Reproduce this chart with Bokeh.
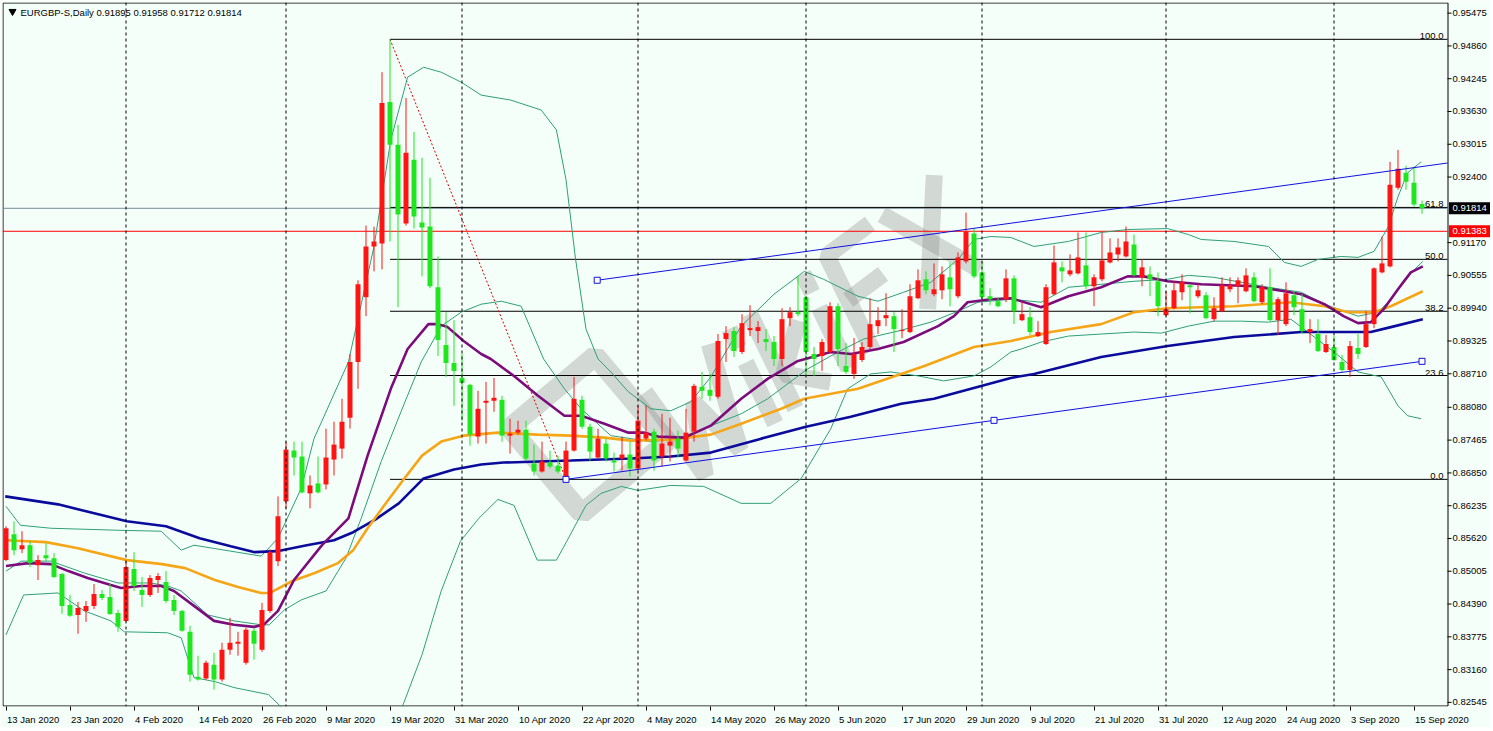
import math
from bokeh.plotting import figure
from bokeh.models import ColumnDataSource, FixedTicker, Range1d, Span
from bokeh.embed import file_html
from bokeh.resources import INLINE
from bokeh.core.properties import value

# ---------------- data ----------------
title_text = "EURGBP-S,Daily  0.91895 0.91958 0.91712 0.91814"

opens = [
0.85214, 0.85700, 0.85419, 0.85494, 0.85120, 0.85307, 0.85251, 0.84952, 0.84373, 0.84186,
0.84261, 0.84355, 0.84579, 0.84523, 0.84224, 0.84074, 0.85045, 0.84654, 0.84560, 0.84841,
0.84803, 0.84467, 0.84261, 0.83869, 0.83028, 0.82991, 0.83252, 0.82973, 0.83533, 0.83645,
0.83290, 0.83888, 0.83533, 0.84261, 0.85195, 0.86316, 0.87269, 0.87157, 0.86466, 0.86653,
0.86634, 0.87100, 0.87306, 0.87885, 0.88931, 0.90146, 0.91098, 0.91154, 0.93807, 0.93004,
0.91527, 0.92723, 0.91546, 0.91471, 0.90333, 0.89249, 0.88912, 0.88632, 0.88502, 0.87531,
0.88165, 0.88203, 0.88221, 0.87549, 0.87605, 0.87661, 0.87026, 0.86876, 0.87044, 0.86988,
0.86746, 0.87269, 0.88221, 0.87717, 0.87138, 0.87400, 0.87082, 0.87119, 0.87194, 0.86932,
0.87493, 0.87624, 0.87157, 0.87362, 0.87493, 0.87082, 0.87624, 0.88465, 0.88408, 0.88278,
0.89361, 0.89511, 0.89118, 0.89529, 0.89511, 0.89361, 0.89305, 0.88987, 0.89753, 0.89865,
0.90146, 0.89081, 0.89043, 0.89118, 0.89977, 0.88856, 0.88707, 0.88968, 0.89212, 0.89603,
0.89753, 0.89790, 0.89511, 0.89492, 0.90127, 0.90482, 0.90202, 0.90276, 0.90519, 0.90164,
0.90818, 0.91341, 0.90612, 0.90164, 0.90071, 0.90108, 0.90500, 0.89715, 0.89772, 0.89417,
0.89268, 0.90202, 0.90706, 0.90575, 0.90593, 0.90743, 0.90351, 0.90482, 0.90799, 0.90949,
0.90911, 0.91136, 0.90519, 0.90575, 0.90445, 0.89809, 0.89940, 0.90239, 0.90370, 0.90164,
0.90183, 0.89734, 0.89884, 0.90295, 0.90351, 0.90258, 0.90519, 0.90052, 0.90333, 0.89715,
0.89641, 0.90183, 0.89921, 0.89492, 0.89455, 0.89118, 0.89212, 0.88931, 0.88781, 0.89193,
0.89212, 0.89641, 0.90612, 0.90724, 0.92201, 0.92480, 0.92294, 0.91895]

highs = [
0.85849, 0.85942, 0.85756, 0.85569, 0.85307, 0.85532, 0.85345, 0.84971, 0.84560, 0.84429,
0.84448, 0.84766, 0.84654, 0.84766, 0.84280, 0.85195, 0.85363, 0.84896, 0.84933, 0.84971,
0.85008, 0.84560, 0.84280, 0.83981, 0.83421, 0.83327, 0.83477, 0.83664, 0.84130, 0.83869,
0.83944, 0.83944, 0.84411, 0.85419, 0.86410, 0.87437, 0.87437, 0.87437, 0.86801, 0.87157,
0.87680, 0.87810, 0.88240, 0.89081, 0.90463, 0.91490, 0.91471, 0.94367, 0.94984, 0.93377,
0.93882, 0.93247, 0.92761, 0.92387, 0.90911, 0.89865, 0.89715, 0.89081, 0.88521, 0.88390,
0.88558, 0.88632, 0.88296, 0.87866, 0.87829, 0.87829, 0.87381, 0.87437, 0.87269, 0.87175,
0.87437, 0.88651, 0.88296, 0.87773, 0.87680, 0.87493, 0.87231, 0.87531, 0.87437, 0.88109,
0.88109, 0.87680, 0.87960, 0.87885, 0.87643, 0.88053, 0.88521, 0.88744, 0.88707, 0.89455,
0.89603, 0.89585, 0.89828, 0.89996, 0.89697, 0.89548, 0.89417, 0.89940, 0.89959, 0.90537,
0.90164, 0.89212, 0.89361, 0.90052, 0.90033, 0.89286, 0.89380, 0.89305, 0.90127, 0.89959,
0.90220, 0.89865, 0.89921, 0.90389, 0.90668, 0.90631, 0.90780, 0.90724, 0.90799, 0.90986,
0.91733, 0.91434, 0.90799, 0.90314, 0.90146, 0.90668, 0.90556, 0.90052, 0.89959, 0.89697,
0.90389, 0.91117, 0.90818, 0.90949, 0.91360, 0.91360, 0.90575, 0.91360, 0.91248, 0.91248,
0.91471, 0.91323, 0.90855, 0.90724, 0.90612, 0.90258, 0.90445, 0.90575, 0.90389, 0.90389,
0.90239, 0.90146, 0.90519, 0.90519, 0.90519, 0.90687, 0.90612, 0.90389, 0.90687, 0.90146,
0.90426, 0.90258, 0.90202, 0.89734, 0.89734, 0.89436, 0.89417, 0.89062, 0.89324, 0.89455,
0.89884, 0.90706, 0.91285, 0.92686, 0.92910, 0.92611, 0.92592, 0.91958]

lows = [
0.85195, 0.85307, 0.85345, 0.85083, 0.84841, 0.85195, 0.84878, 0.84205, 0.84149, 0.83832,
0.84055, 0.84298, 0.84467, 0.84186, 0.83869, 0.84055, 0.84635, 0.84336, 0.84523, 0.84598,
0.84411, 0.84186, 0.83869, 0.82935, 0.82954, 0.82973, 0.82786, 0.82935, 0.83439, 0.83421,
0.83252, 0.83346, 0.83495, 0.84224, 0.85102, 0.86185, 0.86801, 0.86466, 0.86185, 0.86466,
0.86540, 0.86801, 0.87119, 0.87680, 0.88427, 0.89790, 0.90631, 0.90668, 0.91192, 0.89959,
0.91490, 0.91434, 0.90537, 0.90314, 0.89043, 0.88651, 0.88109, 0.87829, 0.87362, 0.87400,
0.87400, 0.87997, 0.87437, 0.87213, 0.87568, 0.87082, 0.86801, 0.86857, 0.86932, 0.86839,
0.86729, 0.87250, 0.87680, 0.87082, 0.87119, 0.87063, 0.86876, 0.86895, 0.86783, 0.86895,
0.87456, 0.86895, 0.86970, 0.87063, 0.87138, 0.87063, 0.87437, 0.88240, 0.88203, 0.88240,
0.88931, 0.89025, 0.89081, 0.89417, 0.89286, 0.89137, 0.88856, 0.88856, 0.89603, 0.89790,
0.88669, 0.88669, 0.88763, 0.89081, 0.88856, 0.88707, 0.88614, 0.88931, 0.89174, 0.89455,
0.89603, 0.89118, 0.89380, 0.89473, 0.90108, 0.90202, 0.90164, 0.90108, 0.89977, 0.90127,
0.90780, 0.90500, 0.90108, 0.89996, 0.89959, 0.90052, 0.89641, 0.89697, 0.89436, 0.89399,
0.89249, 0.90183, 0.90426, 0.90537, 0.90575, 0.90295, 0.89977, 0.90445, 0.90780, 0.90818,
0.90893, 0.90537, 0.90351, 0.90164, 0.89790, 0.89790, 0.89921, 0.90089, 0.89846, 0.90127,
0.89734, 0.89697, 0.89865, 0.90239, 0.90033, 0.90239, 0.90052, 0.90015, 0.89697, 0.89436,
0.89603, 0.89809, 0.89455, 0.89286, 0.89118, 0.89099, 0.88950, 0.88744, 0.88651, 0.88987,
0.89193, 0.89566, 0.90593, 0.90706, 0.92163, 0.92163, 0.91845, 0.91712]

closes = [
0.85812, 0.85401, 0.85494, 0.85158, 0.85214, 0.85251, 0.84896, 0.84355, 0.84168, 0.84317,
0.84355, 0.84579, 0.84504, 0.84205, 0.83962, 0.85083, 0.84729, 0.84560, 0.84878, 0.84915,
0.84448, 0.84261, 0.83888, 0.83065, 0.82973, 0.83290, 0.82973, 0.83533, 0.83664, 0.83682,
0.83907, 0.83645, 0.84280, 0.85363, 0.86036, 0.87287, 0.87138, 0.86484, 0.86615, 0.86484,
0.87138, 0.87381, 0.87810, 0.88931, 0.90389, 0.91098, 0.91192, 0.93788, 0.93004, 0.91696,
0.92854, 0.91658, 0.91453, 0.90351, 0.89342, 0.88912, 0.88763, 0.88539, 0.87568, 0.88053,
0.88203, 0.88259, 0.87549, 0.87587, 0.87661, 0.87119, 0.86876, 0.87063, 0.86970, 0.86876,
0.87269, 0.88240, 0.87717, 0.87250, 0.87493, 0.87119, 0.87044, 0.87194, 0.86932, 0.87829,
0.87605, 0.87082, 0.87400, 0.87437, 0.87306, 0.87605, 0.88483, 0.88390, 0.88296, 0.89324,
0.89473, 0.89137, 0.89659, 0.89566, 0.89585, 0.89305, 0.88987, 0.89734, 0.89865, 0.89828,
0.89118, 0.88987, 0.89305, 0.89977, 0.89174, 0.88744, 0.89081, 0.89212, 0.89641, 0.89715,
0.89809, 0.89548, 0.89529, 0.90164, 0.90463, 0.90276, 0.90295, 0.90575, 0.90295, 0.90893,
0.91379, 0.90537, 0.90146, 0.90108, 0.89977, 0.90500, 0.89884, 0.89828, 0.89492, 0.89492,
0.90333, 0.90799, 0.90631, 0.90649, 0.90893, 0.90351, 0.90519, 0.90836, 0.90986, 0.91080,
0.91192, 0.90556, 0.90706, 0.90482, 0.89977, 0.89921, 0.90276, 0.90426, 0.90333, 0.90276,
0.89753, 0.89940, 0.90370, 0.90370, 0.90463, 0.90556, 0.90071, 0.90333, 0.89715, 0.90108,
0.90220, 0.89959, 0.89511, 0.89548, 0.89137, 0.89268, 0.88968, 0.88781, 0.89230, 0.89081,
0.89641, 0.90687, 0.90780, 0.92257, 0.92555, 0.92313, 0.91883, 0.91814]

# indicator lines (bar index, price)
blue_x = [-0.1, 6.5, 15.1, 20, 24.2, 28.1, 31.1, 33.9, 37.6, 41, 43.4, 46.2, 49.1, 52.2, 56, 59.4, 62.2, 70.6, 78.1, 83.1,
          88.1, 94.4, 100, 105.6, 111.9, 116, 125.6, 128.5, 136.9, 145.2, 153.5, 161.9, 170.6, 173.1, 177.1]
blue_y = [0.86410, 0.86260, 0.85942, 0.85849, 0.85625, 0.85476, 0.85363, 0.85382, 0.85494, 0.85588,
          0.85737, 0.85979, 0.86279, 0.86746, 0.86914, 0.87007, 0.87044, 0.87082, 0.87119, 0.87157,
          0.87231, 0.87493, 0.87717, 0.87904, 0.88147, 0.88240, 0.88632, 0.88707, 0.89025, 0.89230,
          0.89399, 0.89492, 0.89492, 0.89585, 0.89734]

orange_x = [0, 5, 9, 15.1, 19.5, 22.4, 26.1, 29, 31.9, 33, 35.8, 38.6, 41.5, 43.4, 45.2, 47.2, 49.6, 52, 54.4, 57.2,
            61.5, 66.4, 70.6, 74.8, 78.1, 83.1, 88.1, 91.9, 96.9, 99.8, 106.5, 114.8, 121, 125.6, 130.6, 136.9, 141,
            145.2, 153.5, 160.6, 164.8, 167.8, 171, 173.1, 177.1]
orange_y = [0.85588, 0.85551, 0.85438, 0.85214, 0.85139, 0.85064, 0.84841, 0.84710, 0.84598, 0.84598,
            0.84822, 0.84971, 0.85158, 0.85401, 0.85812, 0.86223, 0.86709, 0.87175, 0.87437, 0.87549,
            0.87605, 0.87568, 0.87549, 0.87512, 0.87456, 0.87475, 0.87568, 0.87773, 0.88053, 0.88240,
            0.88427, 0.88856, 0.89212, 0.89324, 0.89492, 0.89641, 0.89865, 0.89940, 0.89977, 0.90052,
            0.89977, 0.89865, 0.89865, 0.89977, 0.90258]

purple_x = [0, 2.8, 5.6, 7.8, 10.2, 13.1, 14.4, 16.9, 19.4, 21, 23.5, 26, 28.5, 31, 32.2, 34, 36, 39.5, 42.8, 45.2,
            48.1, 50.2, 52.8, 54, 55.2, 57.2, 59.4, 60.6, 63.5, 66.5, 69.8, 71.9, 74.8, 77.8, 79.8, 81.5, 84.8, 88.1,
            91.9, 95.2, 99, 103.1, 105.6, 109, 112.2, 116.5, 118.5, 120.2, 123.1, 125.6, 129.4, 132.8, 136.9, 140.2,
            142.2, 145.2, 149.4, 156, 159.8, 161.9, 164.8, 167.2, 169, 170.6, 172.2, 174, 175.6, 177.1]
purple_y = [0.85102, 0.85158, 0.85139, 0.85008, 0.84878, 0.84747, 0.84691, 0.84729, 0.84729, 0.84635,
            0.84355, 0.84074, 0.84000, 0.83962, 0.84000, 0.84261, 0.84841, 0.85494, 0.85998, 0.87175,
            0.88427, 0.89174, 0.89641, 0.89641, 0.89585, 0.89324, 0.89081, 0.88987, 0.88669, 0.88296,
            0.87922, 0.87922, 0.87773, 0.87605, 0.87605, 0.87531, 0.87512, 0.87736, 0.88240, 0.88614,
            0.88950, 0.89118, 0.89081, 0.89174, 0.89305, 0.89603, 0.89790, 0.90052, 0.90108, 0.90127,
            0.89959, 0.90164, 0.90333, 0.90537, 0.90537, 0.90445, 0.90389, 0.90351, 0.90258, 0.90202,
            0.90015, 0.89790, 0.89659, 0.89678, 0.89921, 0.90295, 0.90612, 0.90724]

bb_upper_x = [0, 1.8, 5.6, 14, 19.4, 21.9, 23.5, 31.9, 34, 36.9, 38.5, 42.8, 46, 48.1, 50.2, 52.2, 54.4, 56.9, 59.4,
              63.1, 66.9, 68.8, 70, 71.2, 72.5, 74, 75.6, 77.8, 80.6, 83.1, 85.6, 88.1, 91.9, 96, 99.8, 102.2, 106.5,
              109, 112.2, 115.6, 119, 121, 123.1, 125.6, 128.5, 132.8, 136.9, 140.2, 145.2, 147.8, 149.4, 153.5,
              157.8, 159.8, 161.9, 164, 166.9, 169, 171, 172.8, 174, 175.2, 176.9]
bb_upper_y = [0.86223, 0.85868, 0.85812, 0.85774, 0.85756, 0.85401, 0.85494, 0.85289, 0.85625, 0.86559,
              0.87493, 0.88931, 0.91098, 0.93097, 0.94274, 0.94460, 0.94367, 0.94180, 0.93937, 0.93844,
              0.93657, 0.93284, 0.92350, 0.90855, 0.89548, 0.88987, 0.88744, 0.88371, 0.88053, 0.88016,
              0.88184, 0.88651, 0.89604, 0.90202, 0.90631, 0.90482, 0.90164, 0.90071, 0.90239, 0.90426,
              0.90855, 0.91229, 0.91285, 0.91266, 0.91098, 0.91192, 0.91360, 0.91416, 0.91434, 0.91322,
              0.91229, 0.91192, 0.91098, 0.90799, 0.90724, 0.90855, 0.90911, 0.90893, 0.91005, 0.91471,
              0.92032, 0.92480, 0.92686]

bb_mid_x = [0, 1.9, 5.6, 9.8, 14, 18.1, 20.2, 21.9, 25.2, 28.5, 31.9, 32.9, 34.8, 36.9, 40, 42.5, 44.4, 46.9, 49.4,
            51.9, 54.4, 56.9, 59.4, 61.9, 64.4, 67.2, 69.8, 71.9, 75.6, 78.1, 80.6, 84, 87.2, 91.9, 95.2, 100.2, 104,
            107.2, 111.5, 115.6, 119, 121.5, 125.6, 129.4, 132.8, 141, 145.2, 147.8, 151, 157.8, 161.9, 164.8, 169,
            171.5, 173.1, 174.8, 177.1]
bb_mid_y = [0.85008, 0.85195, 0.85195, 0.84971, 0.84785, 0.84785, 0.84729, 0.84635, 0.84186, 0.84074,
            0.84000, 0.84000, 0.84280, 0.84467, 0.84635, 0.85251, 0.85998, 0.87064, 0.88007, 0.88931,
            0.89604, 0.89865, 0.90015, 0.90071, 0.89977, 0.88987, 0.88427, 0.88053, 0.87549, 0.87493,
            0.87437, 0.87493, 0.87680, 0.87960, 0.88240, 0.88800, 0.89118, 0.89361, 0.89511, 0.89678,
            0.89884, 0.90052, 0.90108, 0.90052, 0.90332, 0.90445, 0.90482, 0.90556, 0.90519, 0.90333,
            0.90239, 0.90015, 0.89790, 0.89865, 0.90108, 0.90482, 0.90818]

bb_lower_x = [0, 2.2, 6.5, 9.8, 13.1, 14.8, 20.2, 21.9, 23.5, 26.1, 28.5, 32.8, 34.2, 36.9, 41.9, 46.2, 49.6, 52, 54.4,
              56.8, 59.1, 61.5, 63.5, 66.4, 68.8, 70.1, 72.5, 74.4, 76.9, 79, 83.1, 87.2, 91.9, 95.6, 99.4, 103.1,
              105.2, 108.1, 110.6, 114, 117.2, 121, 123.1, 125.6, 126.9, 129.4, 132.8, 136.9, 141, 144.4, 147.8, 151,
              154.4, 157.8, 160.6, 166, 169, 171.9, 174, 175.2, 176.9]
bb_lower_y = [0.83813, 0.84560, 0.84598, 0.84261, 0.84074, 0.83869, 0.83851, 0.83757, 0.83010, 0.82935,
              0.82823, 0.82692, 0.82487, 0.81889, 0.81328, 0.81515, 0.82487, 0.83439, 0.84635, 0.85569,
              0.85998, 0.86353, 0.86241, 0.85214, 0.85214, 0.85569, 0.86241, 0.86466, 0.86597, 0.86522,
              0.86615, 0.86597, 0.86279, 0.86279, 0.86746, 0.87680, 0.88427, 0.88707, 0.88744, 0.88670,
              0.88576, 0.88670, 0.88838, 0.89118, 0.89174, 0.89305, 0.89417, 0.89455, 0.89492, 0.89473,
              0.89604, 0.89697, 0.89697, 0.89678, 0.89734, 0.89118, 0.88744, 0.88651, 0.88109, 0.87922,
              0.87866]

# Fibonacci retracement (swing high bar 48 -> swing low bar 70)
fib_high_bar, fib_high = 48, 0.94984
fib_low_bar, fib_low = 70, 0.86729
fib_ratios = [100.0, 61.8, 50.0, 38.2, 23.6, 0.0]

# trend channel anchors
channel_bars = [70, 177]
channel_prices = [0.86729, 0.88943]
channel_upper_bar, channel_upper_price = 73.9, 0.90464

bid_price = 0.91814
red_level = 0.91383

month_starts = [15, 35, 57, 79, 100, 122, 145, 166]

xtick_pos = list(range(0, 177, 8))
xtick_labels = ["13 Jan 2020", "23 Jan 2020", "4 Feb 2020", "14 Feb 2020", "26 Feb 2020", "9 Mar 2020",
                "19 Mar 2020", "31 Mar 2020", "10 Apr 2020", "22 Apr 2020", "4 May 2020", "14 May 2020",
                "26 May 2020", "5 Jun 2020", "17 Jun 2020", "29 Jun 2020", "9 Jul 2020", "21 Jul 2020",
                "31 Jul 2020", "12 Aug 2020", "24 Aug 2020", "3 Sep 2020", "15 Sep 2020"]

ytick_vals = [0.95475, 0.94860, 0.94245, 0.93630, 0.93015, 0.92400, 0.91170, 0.90555, 0.89940, 0.89325,
              0.88710, 0.88080, 0.87465, 0.86850, 0.86235, 0.85620, 0.85005, 0.84390, 0.83775, 0.83160, 0.82545]

# ---------------- layout ----------------
FONT = "Liberation Sans"
FSN = 9.5
FS = "9.5px"
BG = "#f5fffa"
BULL = "#ff1414"
BEAR = "#1fe61f"
TEAL = "#2f9f78"
WM = "#808080"

W, H = 1490, 727
LEFT, TOP_PX, BOTTOM_PX = 2, 2, 709
CHART_RIGHT = 1447            # price-panel border; the price scale lives to its right
BAR_PX = 8.0
PX = 0.0001868                # price per pixel
TOP = 0.95712                 # price at canvas y = 0
X0 = (LEFT - 5.5) / BAR_PX
X1 = X0 + (W - LEFT) / BAR_PX
Y1 = TOP - PX * TOP_PX
Y0 = TOP - PX * BOTTOM_PX


def sx(px):
    return X0 + (px - LEFT) / BAR_PX


def sy(py):
    return TOP - PX * py


XR = sx(CHART_RIGHT)          # data x of the price-panel border

CHAR_W = {" ": 0.278, "J": 0.5, "a": 0.556, "n": 0.556, "F": 0.611, "e": 0.556, "b": 0.556, "M": 0.833,
          "r": 0.333, "A": 0.667, "p": 0.556, "y": 0.5, "u": 0.556, "l": 0.222, "S": 0.667, "g": 0.556}


def text_px(s):
    return sum(CHAR_W.get(ch, 0.556) for ch in s) * FSN


p = figure(width=W, height=H, x_range=Range1d(X0, X1), y_range=Range1d(Y0, Y1),
           output_backend="svg", toolbar_location=None, y_axis_location=None,
           min_border_left=LEFT, min_border_top=TOP_PX, min_border_right=0,
           min_border_bottom=H - BOTTOM_PX)
p.background_fill_color = BG
p.border_fill_color = BG
p.outline_line_color = None
p.xgrid.visible = False
p.ygrid.visible = False

# ---- background watermark (logo frame + stroked lettering, rotated) ----
p.rect(x=[sx(588)], y=[sy(436)], width=[112], height=[112], width_units="screen", height_units="screen",
       angle=0.70, fill_alpha=0, line_color=WM, line_alpha=0.3, line_width=20)
wm_strokes = [
    [(0, 90), (16, 0), (35, 58), (54, 0), (70, 90)],               # W
    [(92, 0), (92, 58)], [(92, 72), (92, 90)],                      # i
    [(114, 0), (114, 90)], [(150, 60), (118, 30), (152, 0)],        # k
    [(172, 0), (172, 58)], [(172, 72), (172, 90)],                  # i
    [(198, 0), (198, 90), (245, 90)], [(198, 48), (236, 48)],       # F
    [(258, 0), (315, 90)], [(258, 90), (315, 0)],                   # X
]
wm_a, wm_s, wm_cx, wm_cy = math.radians(37), 1.15, 812.0, 332.0
dxu, dyu = math.cos(wm_a), -math.sin(wm_a)
uxv, uyv = -math.sin(wm_a), -math.cos(wm_a)
wm_xs, wm_ys = [], []
for stroke in wm_strokes:
    xs_, ys_ = [], []
    for u, v in stroke:
        uu = (u - 157.5 + 0.2 * (v - 45)) * wm_s
        vv = (v - 45) * wm_s
        px_ = wm_cx + uu * dxu + vv * uxv
        py_ = wm_cy + uu * dyu + vv * uyv
        xs_.append(sx(px_))
        ys_.append(sy(py_))
    wm_xs.append(xs_)
    wm_ys.append(ys_)
p.multi_line(wm_xs, wm_ys, line_color=WM, line_alpha=0.3, line_width=17, line_join="bevel", line_cap="butt")

# date axis: labels start at their tick (MT4 style); major ticks carry the text, minor ticks mark the bar
label_centers = [round(t + (1 + text_px(s) / 2.0) / BAR_PX, 4) for t, s in zip(xtick_pos, xtick_labels)]
p.xaxis.ticker = FixedTicker(ticks=label_centers, minor_ticks=xtick_pos)
p.xaxis.major_label_overrides = {c: s for c, s in zip(label_centers, xtick_labels)}
p.xaxis.major_label_text_font = FONT
p.xaxis.major_label_text_font_size = FS
p.xaxis.major_label_text_color = "black"
p.xaxis.major_label_standoff = 3
p.xaxis.major_tick_out = 0
p.xaxis.major_tick_in = 0
p.xaxis.minor_tick_out = 4
p.xaxis.minor_tick_in = 0
p.xaxis.minor_tick_line_color = "black"
p.xaxis.axis_line_color = None

# panel border
bx = [sx(LEFT + 0.5), sx(LEFT + 0.5), sx(CHART_RIGHT + 0.5), sx(CHART_RIGHT + 0.5), sx(LEFT + 0.5)]
by = [sy(TOP_PX + 0.5), sy(BOTTOM_PX - 0.5), sy(BOTTOM_PX - 0.5), sy(TOP_PX + 0.5), sy(TOP_PX + 0.5)]
p.line(bx, by, line_color="black", line_width=1)

# price scale (right side)
p.segment(x0=[XR] * len(ytick_vals), y0=ytick_vals, x1=[sx(CHART_RIGHT + 4)] * len(ytick_vals), y1=ytick_vals,
          line_color="black", line_width=1)
p.text(x=[sx(CHART_RIGHT + 5)] * len(ytick_vals), y=ytick_vals, text=["%.5f" % v for v in ytick_vals],
       text_align="left", text_baseline="middle", text_font=value(FONT), text_font_size=FS, text_color="black")

# month separators
for m in month_starts:
    p.add_layout(Span(location=m, dimension="height", line_color="black", line_dash="3 3", line_width=1))

# horizontal price lines
p.segment(x0=[X0, X0], y0=[bid_price, red_level], x1=[XR, XR], y1=[bid_price, red_level],
          line_color=["#7a8a9a", "#ff0000"], line_width=1)

# Fibonacci levels
fib_levels = [fib_low + r / 100.0 * (fib_high - fib_low) for r in fib_ratios]
p.segment(x0=[fib_high_bar] * len(fib_levels), y0=fib_levels, x1=[XR] * len(fib_levels), y1=fib_levels,
          line_color="black", line_width=1)
p.text(x=[XR] * len(fib_levels), y=fib_levels, text=["%.1f" % r for r in fib_ratios], text_align="right",
       text_baseline="bottom", x_offset=-4, text_font=value(FONT), text_font_size=FS, text_color="black")
p.line(x=[fib_high_bar, fib_low_bar], y=[fib_high, fib_low], line_color="#e00000", line_dash="2 2", line_width=1)

# indicators
p.line(bb_upper_x, bb_upper_y, line_color=TEAL, line_width=1)
p.line(bb_mid_x, bb_mid_y, line_color=TEAL, line_width=1)
p.line(bb_lower_x, bb_lower_y, line_color=TEAL, line_width=1)
p.line(blue_x, blue_y, line_color="#0a0a9c", line_width=2.6)
p.line(orange_x, orange_y, line_color="#f5a516", line_width=2.6)
p.line(purple_x, purple_y, line_color="#7c0c7c", line_width=2.6)

# candles
n = len(closes)
xs = list(range(n))
cols, tops, bots = [], [], []
for o, c in zip(opens, closes):
    cols.append(BULL if c >= o else BEAR)
    t, b = max(o, c), min(o, c)
    if t - b < PX:
        b = t - PX
    tops.append(t)
    bots.append(b)
src = ColumnDataSource(dict(x=xs, top=tops, bottom=bots, high=highs, low=lows, color=cols))
p.segment(x0="x", y0="low", x1="x", y1="high", line_color="color", line_width=1, source=src)
p.vbar(x="x", width=0.625, top="top", bottom="bottom", fill_color="color", line_color=None, source=src)

# channel
slope = (channel_prices[1] - channel_prices[0]) / (channel_bars[1] - channel_bars[0])
p.line(channel_bars, channel_prices, line_color="#1010e0", line_width=1)
upper_end = channel_upper_price + slope * (XR - channel_upper_bar)
p.line([channel_upper_bar, XR], [channel_upper_price, upper_end], line_color="#1010e0", line_width=1)
mid_bar = (channel_bars[0] + channel_bars[1]) / 2.0
p.scatter([channel_bars[0], mid_bar, channel_bars[1], channel_upper_bar],
          [channel_prices[0], (channel_prices[0] + channel_prices[1]) / 2.0, channel_prices[1], channel_upper_price],
          marker="square", size=6, fill_color="white", line_color="#1010e0", line_width=1)

# price tags on the price scale
p.rect(x=[sx(CHART_RIGHT + 22.5)] * 2, y=[bid_price, red_level], width=[42, 42], height=[12, 12],
       width_units="screen", height_units="screen", fill_color=["black", "#ff0000"], line_color=None)
p.text(x=[sx(CHART_RIGHT + 5)] * 2, y=[bid_price, red_level], text=["%.5f" % bid_price, "%.5f" % red_level],
       text_align="left", text_baseline="middle", text_font=value(FONT), text_font_size=FS, text_color="white")

# title
p.scatter([sx(12)], [sy(11)], marker="inverted_triangle", size=7, fill_color="black", line_color="black")
p.text(x=[sx(20)], y=[sy(12)], text=[title_text], text_align="left", text_baseline="middle",
       text_font=value(FONT), text_font_size=FS, text_color="black")

open("out.html", "w").write(file_html(p, INLINE))
